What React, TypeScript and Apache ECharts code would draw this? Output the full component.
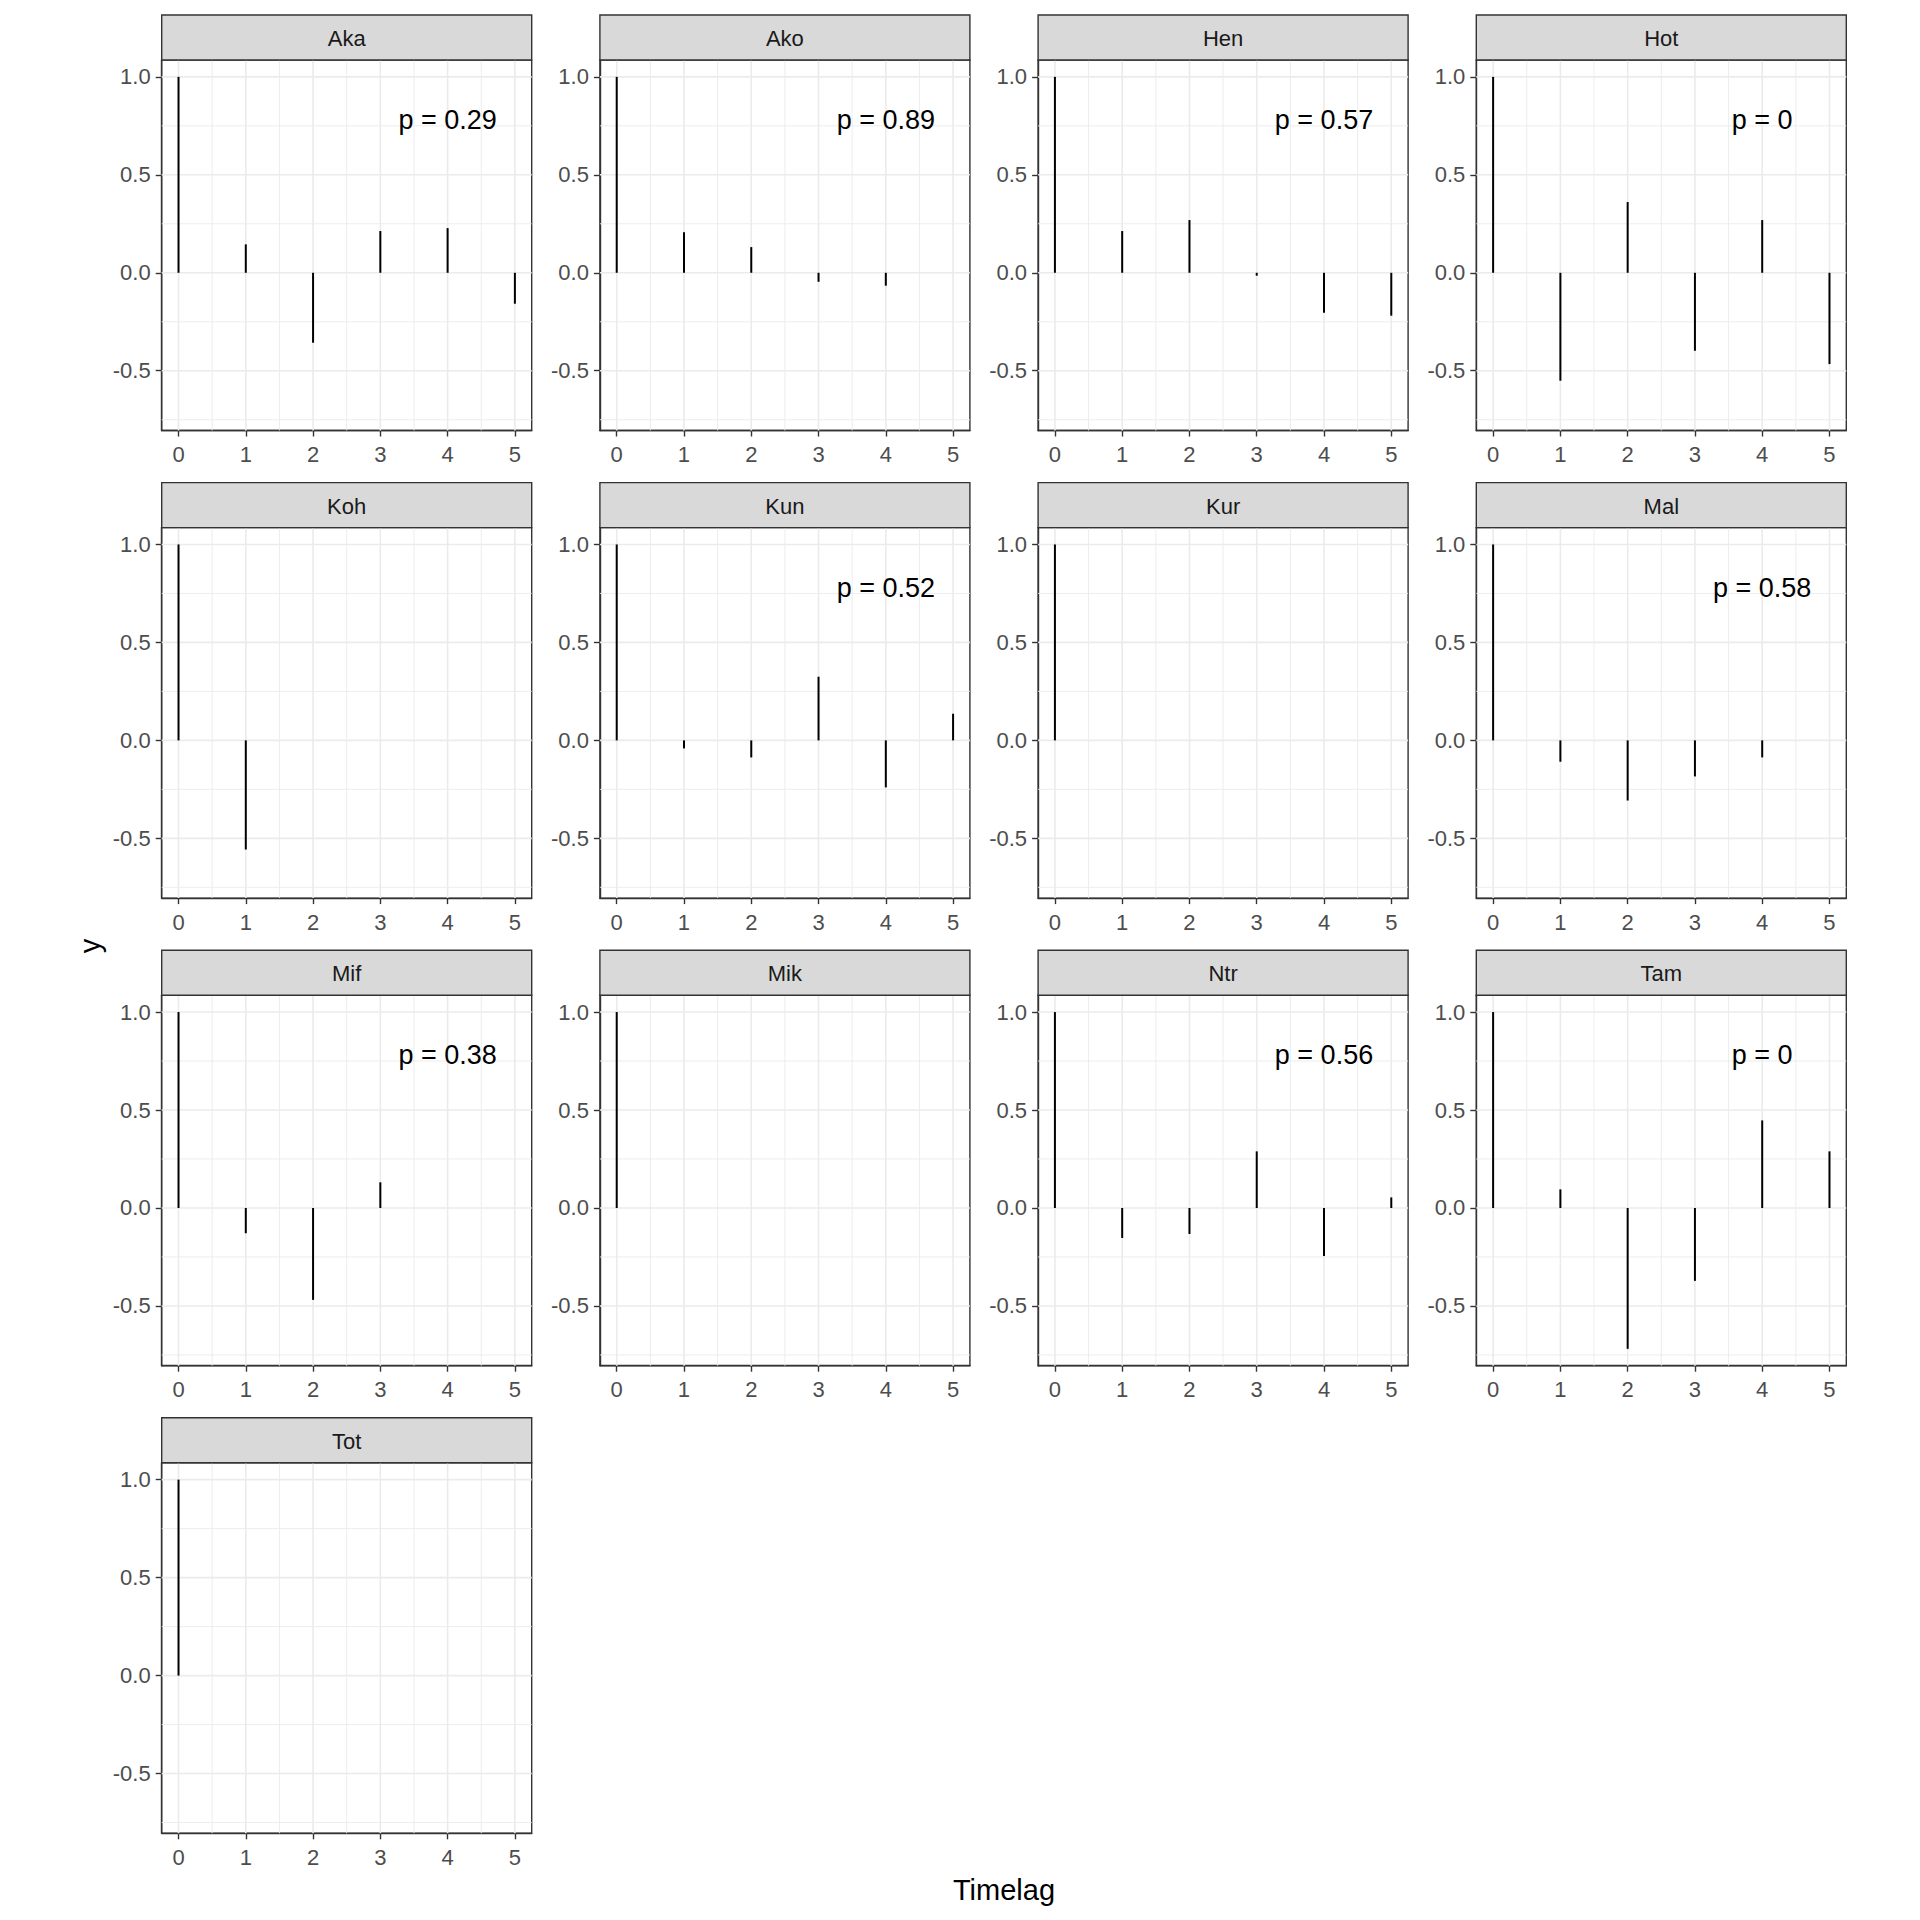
import React, { useEffect, useRef } from "react";
import * as echarts from "echarts";

// ---------- data ----------
const panelNames = ["Aka", "Ako", "Hen", "Hot", "Koh", "Kun", "Kur", "Mal", "Mif", "Mik", "Ntr", "Tam", "Tot"];
const lags = [0, 1, 2, 3, 4, 5];
const acfAka = [1.0, 0.145, -0.357, 0.213, 0.228, -0.158];
const acfAko = [1.0, 0.207, 0.131, -0.046, -0.066, null];
const acfHen = [1.0, 0.213, 0.269, -0.015, -0.204, -0.219];
const acfHot = [1.0, -0.551, 0.361, -0.398, 0.269, -0.466];
const acfKoh = [1.0, -0.557, null, null, null, null];
const acfKun = [1.0, -0.041, -0.087, 0.325, -0.24, 0.136];
const acfKur = [1.0, null, null, null, null, null];
const acfMal = [1.0, -0.109, -0.307, -0.184, -0.087, null];
const acfMif = [1.0, -0.129, -0.469, 0.131, null, null];
const acfMik = [1.0, null, null, null, null, null];
const acfNtr = [1.0, -0.153, -0.133, 0.289, -0.245, 0.054];
const acfTam = [1.0, 0.095, -0.719, -0.372, 0.447, 0.289];
const acfTot = [1.0, null, null, null, null, null];
const acfValues = [acfAka, acfAko, acfHen, acfHot, acfKoh, acfKun, acfKur, acfMal, acfMif, acfMik, acfNtr, acfTam, acfTot];
const pLabels = ["p = 0.29", "p = 0.89", "p = 0.57", "p = 0", null, "p = 0.52", null, "p = 0.58", "p = 0.38", null, "p = 0.56", "p = 0", null];

const xTicks = [0, 1, 2, 3, 4, 5];
const xMinor = [0.5, 1.5, 2.5, 3.5, 4.5];
const yTicks = [-0.5, 0, 0.5, 1.0];
const yMinor = [-0.75, -0.25, 0.25, 0.75];
const xTitle = "Timelag";
const yTitle = "y";

// ---------- layout / style ----------
const X_MIN = -0.25, X_MAX = 5.25;
const Y_MIN = -0.805, Y_MAX = 1.086;
const P_X = 4, P_Y = 0.78;
const COL_LEFT0 = 161.7, COL_STEP = 438.2;
const ROW_TOP0 = 60, ROW_STEP = 467.6;
const PANEL_W = 370, PANEL_H = 370.5, STRIP_H = 45;
const FONT = '"Liberation Sans", Arial, sans-serif';
const NCOL = 4;

function buildOption() {
  const grid: any[] = [];
  const xAxis: any[] = [];
  const yAxis: any[] = [];
  const series: any[] = [];
  const graphic: any[] = [];

  panelNames.forEach((name, i) => {
    const r = Math.floor(i / NCOL);
    const c = i % NCOL;
    const left = COL_LEFT0 + c * COL_STEP;
    const top = ROW_TOP0 + r * ROW_STEP;
    grid.push({
      left, top, width: PANEL_W, height: PANEL_H,
      show: true, backgroundColor: "#ffffff", borderColor: "#333333", borderWidth: 1.4,
      containLabel: false,
    });
    xAxis.push({
      type: "value", gridIndex: i, min: X_MIN, max: X_MAX, position: "bottom",
      axisLine: { show: true, onZero: false, lineStyle: { color: "#333333", width: 1.4 } },
      splitLine: { show: false },
      axisTick: { show: true, customValues: xTicks, length: 6, lineStyle: { color: "#333333", width: 1.4 } },
      axisLabel: {
        show: true, customValues: xTicks, color: "#4d4d4d", fontSize: 22, fontFamily: FONT, margin: 13,
        formatter: (v: number) => String(Math.round(v)),
      },
    });
    yAxis.push({
      type: "value", gridIndex: i, min: Y_MIN, max: Y_MAX, position: "left",
      axisLine: { show: true, onZero: false, lineStyle: { color: "#333333", width: 1.4 } },
      splitLine: { show: false },
      axisTick: { show: true, customValues: yTicks, length: 6, lineStyle: { color: "#333333", width: 1.4 } },
      axisLabel: {
        show: true, customValues: yTicks, color: "#4d4d4d", fontSize: 22, fontFamily: FONT, margin: 11,
        formatter: (v: number) => v.toFixed(1),
      },
    });

    // grid lines: [x, y, kind] kind 0 = x major, 1 = x minor, 2 = y major, 3 = y minor
    const gl: any[] = [];
    xTicks.forEach((v) => gl.push([v, 0, 0]));
    xMinor.forEach((v) => gl.push([v, 0, 1]));
    yTicks.forEach((v) => gl.push([0, v, 2]));
    yMinor.forEach((v) => gl.push([0, v, 3]));
    series.push({
      type: "custom", xAxisIndex: i, yAxisIndex: i, silent: true, z: 1,
      encode: { x: 0, y: 1 },
      data: gl,
      renderItem: (params: any, api: any) => {
        const cs = params.coordSys;
        const kind = api.value(2);
        const p = api.coord([api.value(0), api.value(1)]);
        const major = kind === 0 || kind === 2;
        const style = { stroke: "#ebebeb", lineWidth: major ? 1.6 : 0.9 };
        if (kind < 2) {
          return { type: "line", shape: { x1: p[0], y1: cs.y, x2: p[0], y2: cs.y + cs.height }, style };
        }
        return { type: "line", shape: { x1: cs.x, y1: p[1], x2: cs.x + cs.width, y2: p[1] }, style };
      },
    });

    // ACF segments
    const vals = acfValues[i];
    const segData: any[] = [];
    lags.forEach((lag, k) => {
      if (vals[k] !== null && vals[k] !== undefined) segData.push([lag, vals[k]]);
    });
    series.push({
      type: "custom", xAxisIndex: i, yAxisIndex: i, silent: true, z: 3,
      encode: { x: 0, y: 1 },
      data: segData,
      renderItem: (params: any, api: any) => {
        const x = api.value(0);
        const y = api.value(1);
        const p0 = api.coord([x, 0]);
        const p1 = api.coord([x, y]);
        return { type: "line", shape: { x1: p0[0], y1: p0[1], x2: p1[0], y2: p1[1] }, style: { stroke: "#000000", lineWidth: 2 } };
      },
    });

    const pl = pLabels[i];
    if (pl) {
      series.push({
        type: "custom", xAxisIndex: i, yAxisIndex: i, silent: true, z: 4,
        encode: { x: 0, y: 1 },
        data: [[P_X, P_Y]],
        renderItem: (params: any, api: any) => {
          const p = api.coord([api.value(0), api.value(1)]);
          return {
            type: "text", x: p[0], y: p[1],
            style: {
              text: pl, fill: "#000000", fontSize: 27, fontFamily: FONT,
              align: "center", verticalAlign: "middle",
              textAlign: "center", textVerticalAlign: "middle",
            },
          };
        },
      });
    }

    // strip
    graphic.push({
      type: "rect", z: 10,
      shape: { x: left, y: top - STRIP_H, width: PANEL_W, height: STRIP_H },
      style: { fill: "#d9d9d9", stroke: "#333333", lineWidth: 1.4 },
    });
    graphic.push({
      type: "text", z: 11,
      x: left + PANEL_W / 2, y: top - STRIP_H / 2 + 1,
      style: {
        text: name, fill: "#1a1a1a", fontSize: 22, fontFamily: FONT,
        align: "center", verticalAlign: "middle", textAlign: "center", textVerticalAlign: "middle",
      },
    });
  });

  const lastCol = COL_LEFT0 + (NCOL - 1) * COL_STEP + PANEL_W;
  graphic.push({
    type: "text", z: 11,
    x: (COL_LEFT0 + lastCol) / 2, y: 1890,
    style: {
      text: xTitle, fill: "#000000", fontSize: 29, fontFamily: FONT,
      align: "center", verticalAlign: "middle", textAlign: "center", textVerticalAlign: "middle",
    },
  });
  graphic.push({
    type: "text", z: 11,
    x: 90, y: 946, rotation: Math.PI / 2,
    style: {
      text: yTitle, fill: "#000000", fontSize: 29, fontFamily: FONT,
      align: "center", verticalAlign: "middle", textAlign: "center", textVerticalAlign: "middle",
    },
  });

  return {
    animation: false,
    backgroundColor: "#ffffff",
    textStyle: { fontFamily: FONT },
    grid, xAxis, yAxis, series, graphic,
  };
}

export default function App() {
  const ref = useRef<HTMLDivElement>(null);
  useEffect(() => {
    if (!ref.current) return;
    const chart = echarts.init(ref.current, null, { renderer: "svg" });
    chart.setOption(buildOption() as any);
    return () => chart.dispose();
  }, []);
  return (
    <div
      ref={ref}
      style={{ position: "absolute", left: 0, top: 0, width: 1920, height: 1920, background: "#ffffff" }}
    />
  );
}
